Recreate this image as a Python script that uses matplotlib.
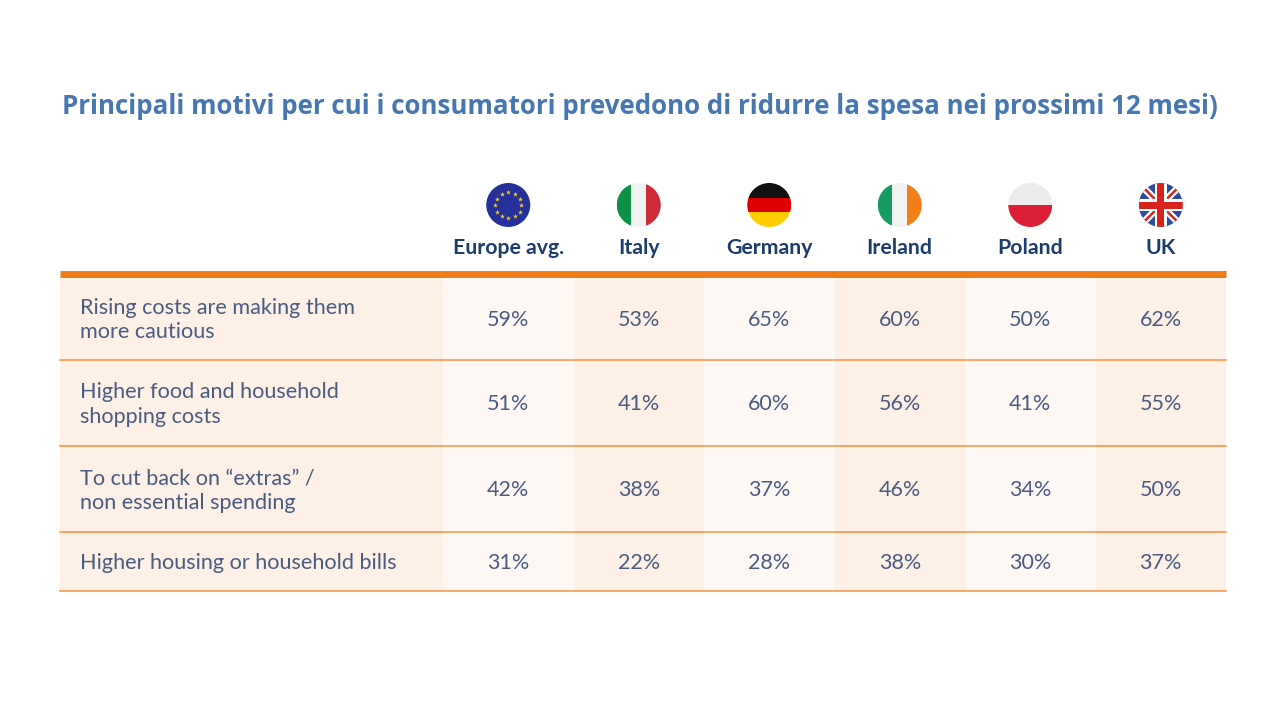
import numpy as np
import matplotlib
matplotlib.use("Agg")
import matplotlib.pyplot as plt
from matplotlib.patches import Rectangle, Circle

# dati
title = "Principali motivi per cui i consumatori prevedono di ridurre la spesa nei prossimi 12 mesi)"
countries = ["Europe avg.", "Italy", "Germany", "Ireland", "Poland", "UK"]
reasons = ["Rising costs are making them\nmore cautious",
           "Higher food and household\nshopping costs",
           "To cut back on \u201cextras\u201d /\nnon essential spending",
           "Higher housing or household bills"]
europe = [59, 51, 42, 31]
italy = [53, 41, 38, 22]
germany = [65, 60, 37, 28]
ireland = [60, 56, 46, 38]
poland = [50, 41, 34, 30]
uk = [62, 55, 50, 37]
values = np.array([europe, italy, germany, ireland, poland, uk]).T

# layout (pixel)
fig = plt.figure(figsize=(12.8, 7.2), dpi=100)
ax = fig.add_axes([0, 0, 1, 1])
ax.set_xlim(0, 1280)
ax.set_ylim(720, 0)
ax.axis("off")

left, label_w, col_w = 60, 383, 130.5
top = 277
row_h = [83, 86, 86, 59]
row_top = top + np.concatenate([[0], np.cumsum(row_h)])
right = left + label_w + col_w * len(countries)
light, dark = "#fef8f5", "#fcf0e7"
orange = "#ef7d17"
txt_col = "#4a5c80"
head_col = "#1d3d6c"

ax.text(62, 107, title, fontsize=18.6, fontweight="bold", color="#4677b0",
        family="Open Sans", va="center", ha="left")

# sfondo colonne
ax.add_patch(Rectangle((left, top), label_w, row_top[-1] - top, color=dark, lw=0))
for j in range(len(countries)):
    x0 = left + label_w + j * col_w
    ax.add_patch(Rectangle((x0, top), col_w, row_top[-1] - top,
                           color=light if j % 2 == 0 else dark, lw=0))

# linee
ax.plot([left, right], [274, 274], color=orange, lw=5, solid_capstyle="butt")
for y in row_top[1:]:
    ax.plot([left, right], [y, y], color="#f5913d", lw=1.1)

# testi
for i, r in enumerate(reasons):
    yc = (row_top[i] + row_top[i + 1]) / 2 + 1.5
    ax.text(80, yc, r, fontsize=15.6, color=txt_col, family="Lato",
            va="center", ha="left", linespacing=1.3)
    for j in range(len(countries)):
        xc = left + label_w + (j + 0.5) * col_w
        ax.text(xc, yc, f"{values[i, j]}%", fontsize=15.5, color=txt_col,
                family="Lato", va="center", ha="center")

# intestazioni + bandiere
R = 22
fy = 205
def stripes(xc, cols, vertical=True):
    circ = Circle((xc, fy), R, transform=ax.transData)
    n = len(cols)
    for k, c in enumerate(cols):
        if vertical:
            p = Rectangle((xc - R + k * 2 * R / n, fy - R), 2 * R / n, 2 * R, color=c, lw=0)
        else:
            p = Rectangle((xc - R, fy - R + k * 2 * R / n), 2 * R, 2 * R / n, color=c, lw=0)
        ax.add_patch(p)
        p.set_clip_path(circ)

for j, name in enumerate(countries):
    xc = left + label_w + (j + 0.5) * col_w
    ax.text(xc, 248, name, fontsize=15.3, fontweight="bold", color=head_col,
            family="Lato", va="center", ha="center")
    if name == "Europe avg.":
        ax.add_patch(Circle((xc, fy), R, color="#26309a", lw=0))
        ang = np.linspace(0, 2 * np.pi, 13)[:-1]
        ax.scatter(xc + 13 * np.cos(ang), fy + 13 * np.sin(ang), marker="*",
                   s=14, color="#f7d31a", lw=0, zorder=3)
    elif name == "Italy":
        stripes(xc, ["#0b9246", "#f2f2f2", "#ce2b37"])
    elif name == "Germany":
        stripes(xc, ["#111111", "#dd0000", "#ffce00"], vertical=False)
    elif name == "Ireland":
        stripes(xc, ["#169b62", "#f2f2f2", "#f07f18"])
    elif name == "Poland":
        stripes(xc, ["#ececec", "#dc1f35"], vertical=False)
    elif name == "UK":
        circ = Circle((xc, fy), R, transform=ax.transData)
        parts = [Rectangle((xc - R, fy - R), 2 * R, 2 * R, color="#2c4a9e", lw=0)]
        for s in (1, -1):
            parts.append(ax.plot([xc - R, xc + R], [fy - s * R, fy + s * R],
                                 color="white", lw=5, solid_capstyle="butt")[0])
            parts.append(ax.plot([xc - R, xc + R], [fy - s * R, fy + s * R],
                                 color="#d8231c", lw=1.8, solid_capstyle="butt")[0])
        parts.append(Rectangle((xc - R, fy - 6), 2 * R, 12, color="white", lw=0))
        parts.append(Rectangle((xc - 6, fy - R), 12, 2 * R, color="white", lw=0))
        parts.append(Rectangle((xc - R, fy - 3.5), 2 * R, 7, color="#d8231c", lw=0))
        parts.append(Rectangle((xc - 3.5, fy - R), 7, 2 * R, color="#d8231c", lw=0))
        for k, p in enumerate(parts):
            if isinstance(p, Rectangle):
                ax.add_patch(p)
            p.set_zorder(2 + k * 0.01)
            p.set_clip_path(circ)

fig.savefig("out.png", dpi=100, facecolor="white")
